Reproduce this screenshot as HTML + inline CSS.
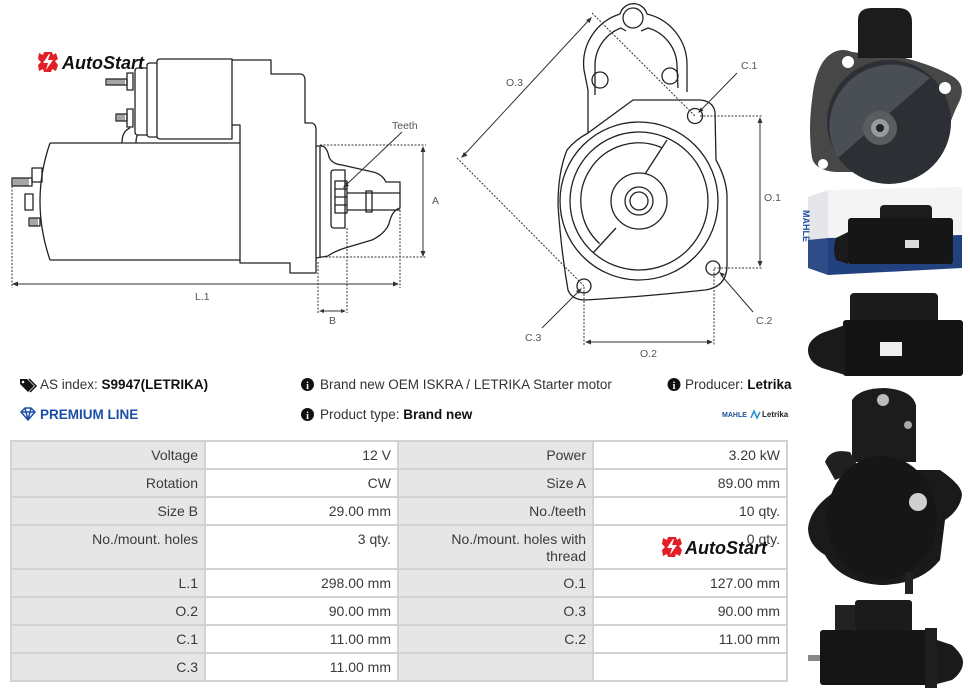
<!DOCTYPE html>
<html><head><meta charset="utf-8">
<style>
html,body{margin:0;padding:0;background:#fff;}
body{width:970px;height:692px;position:relative;overflow:hidden;font-family:"Liberation Sans",sans-serif;}
.t{position:absolute;white-space:nowrap;font-size:13.5px;line-height:18px;color:#333;}
.c{position:absolute;box-sizing:border-box;text-align:right;padding:5px 6px 0 0;font-size:14px;line-height:17px;color:#3a3a3a;white-space:nowrap;}
.l{background:#e6e6e6;}
.v{background:#fff;}
</style></head><body>
<svg width="970" height="692" style="position:absolute;left:0;top:0" font-family="Liberation Sans, sans-serif">
<!-- LOGO top-left -->
<g transform="translate(48,62)">
<path fill="#e31e24" d="M-4,-10 H4 L5,-7 L8,-9 L10,-3 L7,-1 L10,3 L8,9 L4,7 L3,10 H-4 L-5,7 L-9,9 L-10,3 L-7,0 L-10,-3 L-9,-9 L-5,-7Z"/>
<path fill="#fff" d="M1,-8 L-5,1 H0 L-2,8 L5,-2 H0 L2,-8Z"/>
</g>
<text x="62" y="69" font-size="18" font-weight="bold" font-style="italic" fill="#111">AutoStart</text>

<!-- SIDE VIEW -->
<g fill="none" stroke="#222" stroke-width="1.3" stroke-linejoin="round">
<path d="M160,59 H232 V139 H160 Q157,139 157,136 V62 Q157,59 160,59Z"/>
<path d="M157,63 H150 Q147,63 147,66 V134 Q147,137 150,137 H157"/>
<path d="M147,68 H138 Q135,68 135,71 V132 Q135,135 138,135 H147"/>
<rect x="127" y="73" width="6" height="17"/>
<rect x="127" y="109" width="6" height="18"/>
<rect x="106" y="79" width="21" height="6"/>
<rect x="116" y="114" width="11" height="7"/>
<path stroke-width="0.8" d="M108,79V85M110,79V85M112,79V85M114,79V85M116,79V85M118,79V85M120,79V85M122,79V85M124,79V85M118,114V121M120,114V121M122,114V121M124,114V121"/>
<path d="M122,143 Q122,131 130,128 M136,143 Q136,136 138,135"/>
<path d="M232,60 H271 V74 H301 Q305,75 305,80 V123 H312 Q316,124 316,130 V273 H290 V263 H240 V125 H232"/>
<path d="M50,143 H240 M50,260 H240 M50,143 Q30,201 50,260"/>
<rect x="32" y="168" width="10" height="14"/>
<rect x="12" y="178" width="20" height="8"/>
<path stroke-width="0.8" d="M14,178V186M16,178V186M18,178V186M20,178V186M22,178V186M24,178V186M26,178V186M28,178V186M31,218V226M33,218V226M35,218V226M37,218V226"/>
<rect x="25" y="194" width="8" height="16"/>
<rect x="29" y="218" width="11" height="8"/>
<path d="M316,146 H322 Q327,147 329,157 Q332,164 342,165 L373,172 Q382,174 386,182 H400 V208 Q393,210 390,220 Q388,232 372,240 L345,248 Q333,252 328,256 L316,258"/>
<path d="M320,146 V258"/>
<path d="M334,170 H345 V228 H334 Q331,228 331,225 V173 Q331,170 334,170Z"/>
<rect x="335" y="181" width="12" height="32"/>
<path d="M335,189 H347 M335,197 H347 M335,205 H347"/>
<path d="M347,193 H400 M347,210 H400"/>
<rect x="366" y="191" width="6" height="21"/>
</g>
<!-- side dims -->
<g stroke="#333" stroke-width="1" fill="none">
<path stroke-dasharray="2 1.5" d="M320,145 H426 M322,257 H426 M12,186 V288 M400,210 V288 M318,262 V313 M347,228 V313"/>
<path d="M423,150 V253 M16,284 H395 M322,311 H343 M402,132 L346,185"/>
</g>
<g fill="#333">
<polygon points="423,146 420.5,152 425.5,152"/>
<polygon points="423,257 420.5,251 425.5,251"/>
<polygon points="12,284 18,281.5 18,286.5"/>
<polygon points="399,284 393,281.5 393,286.5"/>
<polygon points="319,311 324,309 324,313"/>
<polygon points="346,311 341,309 341,313"/>
<polygon points="343,188 349.1,185.7 345.7,182.1"/>
</g>
<g font-size="10.5" fill="#555">
<text x="392" y="129">Teeth</text>
<text x="432" y="204">A</text>
<text x="195" y="300">L.1</text>
<text x="329" y="324">B</text>
</g>

<!-- FRONT VIEW -->
<g fill="none" stroke="#222" stroke-width="1.3" stroke-linejoin="round">
<path d="M588,133 V90 L584,70 A52,52 0 0 1 620,14 A14,14 0 0 1 647,14 A52,52 0 0 1 687,65 V92"/>
<path d="M595,95 V66 A40,40 0 0 1 621,28 L626,31 M641,31 L648,28 A40,40 0 0 1 677,66 L678,88"/>
<circle cx="633" cy="18" r="10"/>
<circle cx="600" cy="80" r="8"/>
<circle cx="670" cy="76" r="8"/>
<path d="M633,100 L700,100 Q713,101 715,112 L716,160 Q726,178 727,195 L727,265 Q727,287 705,290 Q640,297 585,300 Q572,300 568,290 Q561,250 558,205 Q558,172 567,150 Q575,140 588,133 Z"/>
<circle cx="639" cy="201" r="79"/>
<circle cx="639" cy="201" r="69"/>
<path d="M662,147.7 A58,58 0 0 0 599.6,243.6"/>
<circle cx="639" cy="201" r="28"/>
<circle cx="639" cy="201" r="14"/>
<circle cx="639" cy="201" r="9"/>
<path d="M667,140 L645,174 M616,228 L593,253"/>
<circle cx="695" cy="116" r="7.5"/>
<circle cx="713" cy="268" r="7"/>
<circle cx="584" cy="286" r="7"/>
</g>
<g stroke="#333" stroke-width="1" fill="none">
<path stroke-dasharray="2 1.5" d="M700,116 H763 M714,268 H763 M584,287 V346 M714,269 V346 M592,13 L695,116 M457,158 L584,286"/>
<path d="M760,121 V263 M588,342 H710 M590,19 L464,155 M737,73 L700,111 M753,312 L721,275 M542,328 L580,290"/>
</g>
<g fill="#333">
<polygon points="760,117 757.5,123 762.5,123"/>
<polygon points="760,267 757.5,261 762.5,261"/>
<polygon points="585,342 591,339.5 591,344.5"/>
<polygon points="713,342 707,339.5 707,344.5"/>
<polygon points="592,17 586,20 589.5,23"/>
<polygon points="461,158 464,152 467.5,155.5"/>
<polygon points="698,113 700.5,107.5 703.5,110.5"/>
<polygon points="719,272 725,274 722,277"/>
<polygon points="582,288 576,291 579,294"/>
</g>
<g font-size="10.5" fill="#555">
<text x="506" y="86">O.3</text>
<text x="741" y="69">C.1</text>
<text x="764" y="201">O.1</text>
<text x="756" y="324">C.2</text>
<text x="525" y="341">C.3</text>
<text x="640" y="357">O.2</text>
</g>

<!-- PHOTO 1 -->
<path fill="#474747" d="M826,58 Q838,46 852,52 L905,58 Q935,66 952,76 Q966,84 960,100 Q950,120 945,140 Q935,165 900,172 L835,172 Q815,170 812,158 Q808,130 812,100 Q815,70 826,58Z"/>
<circle cx="889" cy="122" r="62" fill="#2c2f34"/>
<path fill="#4a4f55" d="M930,78 A62,62 0 0 0 838,158 Z"/>
<path fill="#1c1c1c" d="M858,58 V20 Q858,8 872,8 H898 Q912,8 912,22 V58Z"/>
<circle cx="848" cy="62" r="6" fill="#fff"/>
<circle cx="945" cy="88" r="6" fill="#fff"/>
<circle cx="823" cy="164" r="5" fill="#fff"/>
<circle cx="880" cy="128" r="17" fill="#5a5d60"/>
<circle cx="880" cy="128" r="9" fill="#9a9a9a"/>
<circle cx="880" cy="128" r="4" fill="#222"/>

<!-- PHOTO 2 box -->
<path fill="#f4f4f4" d="M828,190 L962,187 L962,235 L828,238Z"/>
<path fill="#22427f" d="M828,238 L962,235 L962,268 L828,275Z"/>
<path fill="#e4e6ea" d="M808,197 L828,190 V238 L808,240Z"/>
<path fill="#2d4c88" d="M808,240 L828,238 V275 L808,268Z"/>
<text x="811" y="228" font-size="9" font-weight="bold" fill="#1f4ea0" transform="rotate(90 816 215)">MAHLE</text>
<rect x="880" y="205" width="52" height="24" rx="4" fill="#1c1c1c"/>
<rect x="848" y="218" width="105" height="46" rx="3" fill="#161616"/>
<path fill="#1a1a1a" d="M848,232 L836,238 Q832,250 836,260 L848,264Z"/>
<rect x="905" y="240" width="14" height="8" fill="#ddd"/>

<!-- PHOTO 3 -->
<rect x="850" y="293" width="88" height="36" rx="4" fill="#1b1b1b"/>
<rect x="843" y="320" width="120" height="56" rx="3" fill="#141414"/>
<path fill="#1a1a1a" d="M845,325 L822,333 Q808,340 808,350 Q808,362 822,368 L845,375Z"/>
<rect x="880" y="342" width="22" height="14" fill="#eee"/>

<!-- PHOTO 4 -->
<path fill="#1a1a1a" d="M808,528 Q810,510 830,495 L860,470 L940,470 Q962,485 962,495 Q960,510 945,520 L940,560 Q920,585 880,585 Q840,582 825,555 Q808,545 808,528Z"/>
<path fill="#1c1c1c" d="M852,400 Q860,388 885,388 Q912,390 916,405 V462 H852Z"/>
<path fill="#202020" d="M825,462 Q830,448 850,452 L860,470 L835,480Z"/>
<ellipse cx="882" cy="518" rx="55" ry="62" fill="#161616"/>
<circle cx="918" cy="502" r="9" fill="#cfcfcf"/>
<circle cx="883" cy="400" r="6" fill="#bbb"/>
<circle cx="908" cy="425" r="4" fill="#aaa"/>
<rect x="905" y="572" width="8" height="22" fill="#222"/>

<!-- PHOTO 5 -->
<rect x="855" y="600" width="57" height="32" rx="3" fill="#1b1b1b"/>
<rect x="835" y="605" width="20" height="25" fill="#222"/>
<rect x="820" y="630" width="108" height="55" rx="3" fill="#151515"/>
<rect x="925" y="628" width="12" height="60" fill="#1e1e1e"/>
<path fill="#1a1a1a" d="M937,640 L952,645 Q963,655 963,662 Q963,672 952,680 L937,684Z"/>
<rect x="808" y="655" width="12" height="6" fill="#888"/>

<!-- info icons -->
<path fill="#111" d="M20,379 H27 L34,386 L28,392 L20,384Z"/>
<circle cx="23" cy="382" r="1.3" fill="#fff"/>
<path fill="none" stroke="#111" stroke-width="1.5" d="M29,379 L36,386 L30,392"/>
<path fill="none" stroke="#1e4fa8" stroke-width="1.5" stroke-linejoin="round" d="M21,412 L25,408 H31 L35,412 L28,420Z M21,412 H35 M25,408 L28,420 M31,408 L28,420"/>
<g>
<circle cx="307.5" cy="384.5" r="6.5" fill="#111"/>
<text x="307.5" y="389" font-size="10" font-weight="bold" fill="#fff" text-anchor="middle" font-family="Liberation Serif, serif">i</text>
<circle cx="307.5" cy="414.5" r="6.5" fill="#111"/>
<text x="307.5" y="419" font-size="10" font-weight="bold" fill="#fff" text-anchor="middle" font-family="Liberation Serif, serif">i</text>
<circle cx="674" cy="384.5" r="6.5" fill="#111"/>
<text x="674" y="389" font-size="10" font-weight="bold" fill="#fff" text-anchor="middle" font-family="Liberation Serif, serif">i</text>
</g>
<!-- mahle letrika logo -->
<text x="722" y="417" font-size="7" font-weight="bold" fill="#1d4f9c">MAHLE</text>
<path fill="none" stroke="#1d8fd0" stroke-width="1.5" d="M751,418 L754,411 L757,418 L760,412"/>
<text x="762" y="417" font-size="8" font-weight="bold" fill="#222">Letrika</text>
</svg>

<div class="t" style="left:40px;top:376px;">AS index: <b style="color:#111">S9947(LETRIKA)</b></div>
<div class="t" style="left:40px;top:406px;color:#1e4fa8;font-weight:bold;">PREMIUM LINE</div>
<div class="t" style="left:320px;top:376px;">Brand new OEM ISKRA / LETRIKA Starter motor</div>
<div class="t" style="left:320px;top:406px;">Product type: <b style="color:#111">Brand new</b></div>
<div class="t" style="left:685px;top:376px;">Producer: <b style="color:#111">Letrika</b></div>

<div style="position:absolute;left:10px;top:440px;width:778px;height:242px;background:#d2d2d2;"></div>
<!-- row 1 -->
<div class="c l" style="left:12px;top:442px;width:192px;height:26px;">Voltage</div>
<div class="c v" style="left:206px;top:442px;width:191px;height:26px;">12 V</div>
<div class="c l" style="left:399px;top:442px;width:193px;height:26px;">Power</div>
<div class="c v" style="left:594px;top:442px;width:192px;height:26px;">3.20 kW</div>
<!-- row 2 -->
<div class="c l" style="left:12px;top:470px;width:192px;height:26px;">Rotation</div>
<div class="c v" style="left:206px;top:470px;width:191px;height:26px;">CW</div>
<div class="c l" style="left:399px;top:470px;width:193px;height:26px;">Size A</div>
<div class="c v" style="left:594px;top:470px;width:192px;height:26px;">89.00 mm</div>
<!-- row 3 -->
<div class="c l" style="left:12px;top:498px;width:192px;height:26px;">Size B</div>
<div class="c v" style="left:206px;top:498px;width:191px;height:26px;">29.00 mm</div>
<div class="c l" style="left:399px;top:498px;width:193px;height:26px;">No./teeth</div>
<div class="c v" style="left:594px;top:498px;width:192px;height:26px;">10 qty.</div>
<!-- row 4 -->
<div class="c l" style="left:12px;top:526px;width:192px;height:42px;">No./mount. holes</div>
<div class="c v" style="left:206px;top:526px;width:191px;height:42px;">3 qty.</div>
<div class="c l" style="left:399px;top:526px;width:193px;height:42px;">No./mount. holes with<br>thread</div>
<div class="c v" style="left:594px;top:526px;width:192px;height:42px;">0 qty.</div>
<!-- row 5 -->
<div class="c l" style="left:12px;top:570px;width:192px;height:26px;">L.1</div>
<div class="c v" style="left:206px;top:570px;width:191px;height:26px;">298.00 mm</div>
<div class="c l" style="left:399px;top:570px;width:193px;height:26px;">O.1</div>
<div class="c v" style="left:594px;top:570px;width:192px;height:26px;">127.00 mm</div>
<!-- row 6 -->
<div class="c l" style="left:12px;top:598px;width:192px;height:26px;">O.2</div>
<div class="c v" style="left:206px;top:598px;width:191px;height:26px;">90.00 mm</div>
<div class="c l" style="left:399px;top:598px;width:193px;height:26px;">O.3</div>
<div class="c v" style="left:594px;top:598px;width:192px;height:26px;">90.00 mm</div>
<!-- row 7 -->
<div class="c l" style="left:12px;top:626px;width:192px;height:26px;">C.1</div>
<div class="c v" style="left:206px;top:626px;width:191px;height:26px;">11.00 mm</div>
<div class="c l" style="left:399px;top:626px;width:193px;height:26px;">C.2</div>
<div class="c v" style="left:594px;top:626px;width:192px;height:26px;">11.00 mm</div>
<!-- row 8 -->
<div class="c l" style="left:12px;top:654px;width:192px;height:26px;">C.3</div>
<div class="c v" style="left:206px;top:654px;width:191px;height:26px;">11.00 mm</div>
<div class="c l" style="left:399px;top:654px;width:193px;height:26px;"></div>
<div class="c v" style="left:594px;top:654px;width:192px;height:26px;"></div>

<svg width="970" height="692" style="position:absolute;left:0;top:0" font-family="Liberation Sans, sans-serif">
<g transform="translate(672,547)">
<path fill="#e31e24" d="M-4,-10 H4 L5,-7 L8,-9 L10,-3 L7,-1 L10,3 L8,9 L4,7 L3,10 H-4 L-5,7 L-9,9 L-10,3 L-7,0 L-10,-3 L-9,-9 L-5,-7Z"/>
<path fill="#fff" d="M1,-8 L-5,1 H0 L-2,8 L5,-2 H0 L2,-8Z"/>
</g>
<text x="685" y="554" font-size="18" font-weight="bold" font-style="italic" fill="#111">AutoStart</text>
</svg>
</body></html>
